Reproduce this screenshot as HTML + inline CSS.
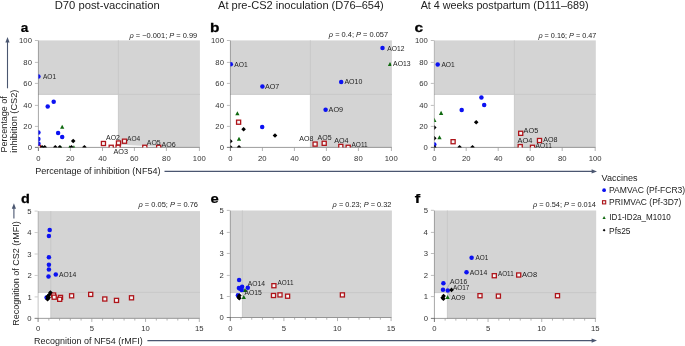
<!DOCTYPE html>
<html><head><meta charset="utf-8"><style>
html,body{margin:0;padding:0;background:#fff;width:685px;height:346px;overflow:hidden}
svg{display:block;font-family:"Liberation Sans", sans-serif;will-change:transform}
</style></head><body>
<svg width="685" height="346" viewBox="0 0 685 346">
<rect width="685" height="346" fill="#fff"/>
<rect x="38.40" y="40.40" width="161.50" height="107.00" fill="#d4d4d4"/>
<rect x="38.40" y="94.40" width="80.00" height="53.00" fill="#fff"/>
<line x1="118.40" y1="40.40" x2="118.40" y2="147.40" stroke="#c6c6c6" stroke-width="0.9"/>
<line x1="38.40" y1="94.40" x2="199.90" y2="94.40" stroke="#c6c6c6" stroke-width="0.9"/>
<path d="M120.5,144.8 L162,146.7 L162,146.95 L120.5,146.95 Z" fill="#fff"/>
<line x1="38.40" y1="40.40" x2="38.40" y2="151.00" stroke="#000" stroke-opacity="0.32" stroke-width="1"/>
<line x1="34.90" y1="147.40" x2="199.90" y2="147.40" stroke="#000" stroke-opacity="0.36" stroke-width="1"/>
<line x1="34.90" y1="147.40" x2="37.90" y2="147.40" stroke="#000" stroke-opacity="0.26" stroke-width="1"/>
<text x="27.63" y="150.15" font-size="7.7" fill="#333">0</text>
<line x1="34.90" y1="126.40" x2="37.90" y2="126.40" stroke="#000" stroke-opacity="0.26" stroke-width="1"/>
<text x="23.36" y="129.15" font-size="7.7" fill="#333">20</text>
<line x1="34.90" y1="105.40" x2="37.90" y2="105.40" stroke="#000" stroke-opacity="0.26" stroke-width="1"/>
<text x="23.36" y="108.14" font-size="7.7" fill="#333">40</text>
<line x1="34.90" y1="83.40" x2="37.90" y2="83.40" stroke="#000" stroke-opacity="0.26" stroke-width="1"/>
<text x="23.36" y="86.14" font-size="7.7" fill="#333">60</text>
<line x1="34.90" y1="62.40" x2="37.90" y2="62.40" stroke="#000" stroke-opacity="0.26" stroke-width="1"/>
<text x="23.36" y="65.14" font-size="7.7" fill="#333">80</text>
<line x1="34.90" y1="40.50" x2="37.90" y2="40.50" stroke="#000" stroke-opacity="0.26" stroke-width="1"/>
<text x="19.09" y="43.24" font-size="7.7" fill="#333">100</text>
<line x1="38.40" y1="147.90" x2="38.40" y2="151.00" stroke="#000" stroke-opacity="0.3" stroke-width="1"/>
<text x="36.26" y="161.20" font-size="7.7" fill="#333">0</text>
<line x1="70.40" y1="147.90" x2="70.40" y2="151.00" stroke="#000" stroke-opacity="0.3" stroke-width="1"/>
<text x="66.09" y="161.20" font-size="7.7" fill="#333">20</text>
<line x1="102.50" y1="147.90" x2="102.50" y2="151.00" stroke="#000" stroke-opacity="0.3" stroke-width="1"/>
<text x="98.28" y="161.20" font-size="7.7" fill="#333">40</text>
<line x1="134.40" y1="147.90" x2="134.40" y2="151.00" stroke="#000" stroke-opacity="0.3" stroke-width="1"/>
<text x="130.09" y="161.20" font-size="7.7" fill="#333">60</text>
<line x1="166.40" y1="147.90" x2="166.40" y2="151.00" stroke="#000" stroke-opacity="0.3" stroke-width="1"/>
<text x="162.11" y="161.20" font-size="7.7" fill="#333">80</text>
<line x1="199.40" y1="147.90" x2="199.40" y2="151.00" stroke="#000" stroke-opacity="0.3" stroke-width="1"/>
<text x="192.86" y="161.20" font-size="7.7" fill="#333">100</text>
<clipPath id="cpa"><rect x="38.40" y="40.40" width="160.90" height="107.00"/></clipPath>
<g clip-path="url(#cpa)">
<path d="M60.05,128.85 L64.35,128.85 L62.20,124.75 Z" fill="#0f690f"/>
<path d="M67.45,149.35 L71.75,149.35 L69.60,145.25 Z" fill="#0f690f"/>
<path d="M71.75,149.35 L76.05,149.35 L73.90,145.25 Z" fill="#0f690f"/>
<path d="M58.55,149.35 L62.85,149.35 L60.70,145.25 Z" fill="#0f690f"/>
<rect x="36.35" y="145.25" width="4.1" height="4.1" fill="#f6f6f6" stroke="#ae141a" stroke-width="1.3"/>
<rect x="101.40" y="141.45" width="4.1" height="4.1" fill="#f6f6f6" stroke="#ae141a" stroke-width="1.3"/>
<rect x="109.15" y="145.25" width="4.1" height="4.1" fill="#f6f6f6" stroke="#ae141a" stroke-width="1.3"/>
<rect x="116.45" y="140.95" width="4.1" height="4.1" fill="#f6f6f6" stroke="#ae141a" stroke-width="1.3"/>
<rect x="116.05" y="145.25" width="4.1" height="4.1" fill="#f6f6f6" stroke="#ae141a" stroke-width="1.3"/>
<rect x="122.45" y="139.15" width="4.1" height="4.1" fill="#f6f6f6" stroke="#ae141a" stroke-width="1.3"/>
<rect x="142.75" y="145.25" width="4.1" height="4.1" fill="#f6f6f6" stroke="#ae141a" stroke-width="1.3"/>
<rect x="156.65" y="145.25" width="4.1" height="4.1" fill="#f6f6f6" stroke="#ae141a" stroke-width="1.3"/>
<circle cx="38.4" cy="76.5" r="2.25" fill="#0c12f2"/>
<circle cx="47.7" cy="106.5" r="2.25" fill="#0c12f2"/>
<circle cx="53.7" cy="101.8" r="2.25" fill="#0c12f2"/>
<circle cx="58.1" cy="133.0" r="2.25" fill="#0c12f2"/>
<circle cx="62.2" cy="137.0" r="2.25" fill="#0c12f2"/>
<circle cx="38.4" cy="132.5" r="2.25" fill="#0c12f2"/>
<circle cx="38.4" cy="138.9" r="2.25" fill="#0c12f2"/>
<circle cx="38.4" cy="143.4" r="2.25" fill="#0c12f2"/>
<path d="M73.20,138.70 L75.50,141.00 L73.20,143.30 L70.90,141.00 Z" fill="#000"/>
<path d="M42.10,145.00 L44.40,147.30 L42.10,149.60 L39.80,147.30 Z" fill="#000"/>
<path d="M44.70,145.00 L47.00,147.30 L44.70,149.60 L42.40,147.30 Z" fill="#000"/>
<path d="M55.30,145.00 L57.60,147.30 L55.30,149.60 L53.00,147.30 Z" fill="#000"/>
<path d="M59.80,145.00 L62.10,147.30 L59.80,149.60 L57.50,147.30 Z" fill="#000"/>
<path d="M71.40,145.00 L73.70,147.30 L71.40,149.60 L69.10,147.30 Z" fill="#000"/>
<path d="M84.40,145.00 L86.70,147.30 L84.40,149.60 L82.10,147.30 Z" fill="#000"/>
</g>
<text x="43.01" y="78.56" font-size="7.7" fill="#222" font-weight="normal" textLength="13.03" lengthAdjust="spacingAndGlyphs" >AO1</text>
<text x="106.11" y="140.26" font-size="7.7" fill="#222" font-weight="normal" textLength="13.83" lengthAdjust="spacingAndGlyphs" >AO2</text>
<text x="113.41" y="154.16" font-size="7.7" fill="#222" font-weight="normal" textLength="14.59" lengthAdjust="spacingAndGlyphs" >AO3</text>
<text x="127.11" y="141.36" font-size="7.7" fill="#222" font-weight="normal" textLength="13.18" lengthAdjust="spacingAndGlyphs" >AO4</text>
<text x="146.81" y="145.36" font-size="7.7" fill="#222" font-weight="normal" textLength="13.95" lengthAdjust="spacingAndGlyphs" >AO5</text>
<text x="161.41" y="147.36" font-size="7.7" fill="#222" font-weight="normal" textLength="14.29" lengthAdjust="spacingAndGlyphs" >AO6</text>
<text x="129.42" y="37.80" font-size="7.4" fill="#222" font-weight="normal" textLength="67.82" lengthAdjust="spacingAndGlyphs" ><tspan font-style="italic">ρ</tspan> = −0.001; <tspan font-style="italic">P</tspan> = 0.99</text>
<rect x="230.40" y="40.40" width="161.50" height="107.00" fill="#d4d4d4"/>
<rect x="230.40" y="94.40" width="80.00" height="53.00" fill="#fff"/>
<line x1="310.40" y1="40.40" x2="310.40" y2="147.40" stroke="#c6c6c6" stroke-width="0.9"/>
<line x1="230.40" y1="94.40" x2="391.90" y2="94.40" stroke="#c6c6c6" stroke-width="0.9"/>
<line x1="230.40" y1="40.40" x2="230.40" y2="151.00" stroke="#000" stroke-opacity="0.32" stroke-width="1"/>
<line x1="226.90" y1="147.40" x2="391.90" y2="147.40" stroke="#000" stroke-opacity="0.36" stroke-width="1"/>
<line x1="226.90" y1="147.40" x2="229.90" y2="147.40" stroke="#000" stroke-opacity="0.26" stroke-width="1"/>
<text x="219.63" y="150.15" font-size="7.7" fill="#333">0</text>
<line x1="226.90" y1="126.40" x2="229.90" y2="126.40" stroke="#000" stroke-opacity="0.26" stroke-width="1"/>
<text x="215.36" y="129.15" font-size="7.7" fill="#333">20</text>
<line x1="226.90" y1="105.40" x2="229.90" y2="105.40" stroke="#000" stroke-opacity="0.26" stroke-width="1"/>
<text x="215.36" y="108.14" font-size="7.7" fill="#333">40</text>
<line x1="226.90" y1="83.40" x2="229.90" y2="83.40" stroke="#000" stroke-opacity="0.26" stroke-width="1"/>
<text x="215.36" y="86.14" font-size="7.7" fill="#333">60</text>
<line x1="226.90" y1="62.40" x2="229.90" y2="62.40" stroke="#000" stroke-opacity="0.26" stroke-width="1"/>
<text x="215.36" y="65.14" font-size="7.7" fill="#333">80</text>
<line x1="226.90" y1="40.50" x2="229.90" y2="40.50" stroke="#000" stroke-opacity="0.26" stroke-width="1"/>
<text x="211.09" y="43.24" font-size="7.7" fill="#333">100</text>
<line x1="230.40" y1="147.90" x2="230.40" y2="151.00" stroke="#000" stroke-opacity="0.3" stroke-width="1"/>
<text x="228.26" y="161.20" font-size="7.7" fill="#333">0</text>
<line x1="262.40" y1="147.90" x2="262.40" y2="151.00" stroke="#000" stroke-opacity="0.3" stroke-width="1"/>
<text x="258.09" y="161.20" font-size="7.7" fill="#333">20</text>
<line x1="294.40" y1="147.90" x2="294.40" y2="151.00" stroke="#000" stroke-opacity="0.3" stroke-width="1"/>
<text x="290.18" y="161.20" font-size="7.7" fill="#333">40</text>
<line x1="326.40" y1="147.90" x2="326.40" y2="151.00" stroke="#000" stroke-opacity="0.3" stroke-width="1"/>
<text x="322.09" y="161.20" font-size="7.7" fill="#333">60</text>
<line x1="358.40" y1="147.90" x2="358.40" y2="151.00" stroke="#000" stroke-opacity="0.3" stroke-width="1"/>
<text x="354.11" y="161.20" font-size="7.7" fill="#333">80</text>
<line x1="391.40" y1="147.90" x2="391.40" y2="151.00" stroke="#000" stroke-opacity="0.3" stroke-width="1"/>
<text x="384.85" y="161.20" font-size="7.7" fill="#333">100</text>
<clipPath id="cpb"><rect x="230.40" y="40.40" width="160.90" height="107.00"/></clipPath>
<g clip-path="url(#cpb)">
<path d="M387.85,66.05 L392.15,66.05 L390.00,61.95 Z" fill="#0f690f"/>
<path d="M235.25,115.25 L239.55,115.25 L237.40,111.15 Z" fill="#0f690f"/>
<path d="M236.85,140.85 L241.15,140.85 L239.00,136.75 Z" fill="#0f690f"/>
<rect x="236.55" y="120.15" width="4.1" height="4.1" fill="#f6f6f6" stroke="#ae141a" stroke-width="1.3"/>
<rect x="313.05" y="142.05" width="4.1" height="4.1" fill="#f6f6f6" stroke="#ae141a" stroke-width="1.3"/>
<rect x="322.15" y="141.25" width="4.1" height="4.1" fill="#f6f6f6" stroke="#ae141a" stroke-width="1.3"/>
<rect x="338.75" y="144.35" width="4.1" height="4.1" fill="#f6f6f6" stroke="#ae141a" stroke-width="1.3"/>
<rect x="346.15" y="145.25" width="4.1" height="4.1" fill="#f6f6f6" stroke="#ae141a" stroke-width="1.3"/>
<circle cx="230.8" cy="64.2" r="2.25" fill="#0c12f2"/>
<circle cx="262.4" cy="86.4" r="2.25" fill="#0c12f2"/>
<circle cx="382.5" cy="48.1" r="2.25" fill="#0c12f2"/>
<circle cx="341.2" cy="81.9" r="2.25" fill="#0c12f2"/>
<circle cx="325.6" cy="109.8" r="2.25" fill="#0c12f2"/>
<circle cx="262.2" cy="126.9" r="2.25" fill="#0c12f2"/>
<path d="M243.60,126.90 L245.90,129.20 L243.60,131.50 L241.30,129.20 Z" fill="#000"/>
<path d="M275.00,133.20 L277.30,135.50 L275.00,137.80 L272.70,135.50 Z" fill="#000"/>
<path d="M230.40,138.90 L232.70,141.20 L230.40,143.50 L228.10,141.20 Z" fill="#000"/>
<path d="M230.40,145.00 L232.70,147.30 L230.40,149.60 L228.10,147.30 Z" fill="#000"/>
<path d="M239.00,145.00 L241.30,147.30 L239.00,149.60 L236.70,147.30 Z" fill="#000"/>
</g>
<text x="234.21" y="66.86" font-size="7.7" fill="#222" font-weight="normal" textLength="13.43" lengthAdjust="spacingAndGlyphs" >AO1</text>
<text x="265.01" y="89.06" font-size="7.7" fill="#222" font-weight="normal" textLength="14.33" lengthAdjust="spacingAndGlyphs" >AO7</text>
<text x="387.31" y="50.66" font-size="7.7" fill="#222" font-weight="normal" textLength="17.14" lengthAdjust="spacingAndGlyphs" >AO12</text>
<text x="393.11" y="66.36" font-size="7.7" fill="#222" font-weight="normal" textLength="17.50" lengthAdjust="spacingAndGlyphs" >AO13</text>
<text x="344.41" y="84.16" font-size="7.7" fill="#222" font-weight="normal" textLength="17.96" lengthAdjust="spacingAndGlyphs" >AO10</text>
<text x="328.61" y="112.46" font-size="7.7" fill="#222" font-weight="normal" textLength="14.49" lengthAdjust="spacingAndGlyphs" >AO9</text>
<text x="299.31" y="140.76" font-size="7.7" fill="#222" font-weight="normal" textLength="14.05" lengthAdjust="spacingAndGlyphs" >AO8</text>
<text x="317.51" y="140.16" font-size="7.7" fill="#222" font-weight="normal" textLength="14.05" lengthAdjust="spacingAndGlyphs" >AO5</text>
<text x="334.21" y="143.36" font-size="7.7" fill="#222" font-weight="normal" textLength="14.38" lengthAdjust="spacingAndGlyphs" >AO4</text>
<text x="351.51" y="146.76" font-size="7.7" fill="#222" font-weight="normal" textLength="16.15" lengthAdjust="spacingAndGlyphs" >AO11</text>
<text x="328.82" y="37.40" font-size="7.4" fill="#222" font-weight="normal" textLength="59.25" lengthAdjust="spacingAndGlyphs" ><tspan font-style="italic">ρ</tspan> = 0.4; <tspan font-style="italic">P</tspan> = 0.057</text>
<rect x="434.30" y="40.40" width="161.50" height="107.00" fill="#d4d4d4"/>
<rect x="434.30" y="94.40" width="80.10" height="53.00" fill="#fff"/>
<line x1="514.40" y1="40.40" x2="514.40" y2="147.40" stroke="#c6c6c6" stroke-width="0.9"/>
<line x1="434.30" y1="94.40" x2="595.80" y2="94.40" stroke="#c6c6c6" stroke-width="0.9"/>
<line x1="434.30" y1="40.40" x2="434.30" y2="151.00" stroke="#000" stroke-opacity="0.22" stroke-width="1"/>
<line x1="430.80" y1="147.40" x2="595.70" y2="147.40" stroke="#000" stroke-opacity="0.36" stroke-width="1"/>
<line x1="430.80" y1="147.40" x2="433.80" y2="147.40" stroke="#000" stroke-opacity="0.26" stroke-width="1"/>
<text x="423.53" y="150.15" font-size="7.7" fill="#333">0</text>
<line x1="430.80" y1="126.40" x2="433.80" y2="126.40" stroke="#000" stroke-opacity="0.26" stroke-width="1"/>
<text x="419.26" y="129.15" font-size="7.7" fill="#333">20</text>
<line x1="430.80" y1="105.40" x2="433.80" y2="105.40" stroke="#000" stroke-opacity="0.26" stroke-width="1"/>
<text x="419.26" y="108.14" font-size="7.7" fill="#333">40</text>
<line x1="430.80" y1="83.40" x2="433.80" y2="83.40" stroke="#000" stroke-opacity="0.26" stroke-width="1"/>
<text x="419.26" y="86.14" font-size="7.7" fill="#333">60</text>
<line x1="430.80" y1="62.40" x2="433.80" y2="62.40" stroke="#000" stroke-opacity="0.26" stroke-width="1"/>
<text x="419.26" y="65.14" font-size="7.7" fill="#333">80</text>
<line x1="430.80" y1="40.50" x2="433.80" y2="40.50" stroke="#000" stroke-opacity="0.26" stroke-width="1"/>
<text x="414.99" y="43.24" font-size="7.7" fill="#333">100</text>
<line x1="434.30" y1="147.90" x2="434.30" y2="151.00" stroke="#000" stroke-opacity="0.3" stroke-width="1"/>
<text x="432.16" y="161.20" font-size="7.7" fill="#333">0</text>
<line x1="466.20" y1="147.90" x2="466.20" y2="151.00" stroke="#000" stroke-opacity="0.3" stroke-width="1"/>
<text x="461.89" y="161.20" font-size="7.7" fill="#333">20</text>
<line x1="498.20" y1="147.90" x2="498.20" y2="151.00" stroke="#000" stroke-opacity="0.3" stroke-width="1"/>
<text x="493.98" y="161.20" font-size="7.7" fill="#333">40</text>
<line x1="530.20" y1="147.90" x2="530.20" y2="151.00" stroke="#000" stroke-opacity="0.3" stroke-width="1"/>
<text x="525.89" y="161.20" font-size="7.7" fill="#333">60</text>
<line x1="562.20" y1="147.90" x2="562.20" y2="151.00" stroke="#000" stroke-opacity="0.3" stroke-width="1"/>
<text x="557.91" y="161.20" font-size="7.7" fill="#333">80</text>
<line x1="595.20" y1="147.90" x2="595.20" y2="151.00" stroke="#000" stroke-opacity="0.3" stroke-width="1"/>
<text x="588.66" y="161.20" font-size="7.7" fill="#333">100</text>
<clipPath id="cpc"><rect x="434.30" y="40.40" width="160.90" height="107.00"/></clipPath>
<g clip-path="url(#cpc)">
<path d="M438.95,114.95 L443.25,114.95 L441.10,110.85 Z" fill="#0f690f"/>
<path d="M432.15,121.95 L436.45,121.95 L434.30,117.85 Z" fill="#0f690f"/>
<path d="M437.35,139.25 L441.65,139.25 L439.50,135.15 Z" fill="#0f690f"/>
<rect x="451.05" y="139.65" width="4.1" height="4.1" fill="#f6f6f6" stroke="#ae141a" stroke-width="1.3"/>
<rect x="518.65" y="131.25" width="4.1" height="4.1" fill="#f6f6f6" stroke="#ae141a" stroke-width="1.3"/>
<rect x="518.15" y="144.55" width="4.1" height="4.1" fill="#f6f6f6" stroke="#ae141a" stroke-width="1.3"/>
<rect x="537.45" y="138.45" width="4.1" height="4.1" fill="#f6f6f6" stroke="#ae141a" stroke-width="1.3"/>
<rect x="530.45" y="145.25" width="4.1" height="4.1" fill="#f6f6f6" stroke="#ae141a" stroke-width="1.3"/>
<circle cx="437.7" cy="64.4" r="2.25" fill="#0c12f2"/>
<circle cx="481.4" cy="97.6" r="2.25" fill="#0c12f2"/>
<circle cx="484.2" cy="105.0" r="2.25" fill="#0c12f2"/>
<circle cx="461.7" cy="110.0" r="2.25" fill="#0c12f2"/>
<circle cx="434.3" cy="144.5" r="2.25" fill="#0c12f2"/>
<path d="M476.20,120.00 L478.50,122.30 L476.20,124.60 L473.90,122.30 Z" fill="#000"/>
<path d="M434.30,125.20 L436.60,127.50 L434.30,129.80 L432.00,127.50 Z" fill="#000"/>
<path d="M434.30,135.90 L436.60,138.20 L434.30,140.50 L432.00,138.20 Z" fill="#000"/>
<path d="M434.30,145.00 L436.60,147.30 L434.30,149.60 L432.00,147.30 Z" fill="#000"/>
<path d="M459.60,145.00 L461.90,147.30 L459.60,149.60 L457.30,147.30 Z" fill="#000"/>
<path d="M472.50,145.00 L474.80,147.30 L472.50,149.60 L470.20,147.30 Z" fill="#000"/>
</g>
<text x="441.41" y="67.06" font-size="7.7" fill="#222" font-weight="normal" textLength="13.33" lengthAdjust="spacingAndGlyphs" >AO1</text>
<text x="523.61" y="133.46" font-size="7.7" fill="#222" font-weight="normal" textLength="14.65" lengthAdjust="spacingAndGlyphs" >AO5</text>
<text x="517.61" y="143.16" font-size="7.7" fill="#222" font-weight="normal" textLength="14.88" lengthAdjust="spacingAndGlyphs" >AO4</text>
<text x="543.21" y="142.16" font-size="7.7" fill="#222" font-weight="normal" textLength="14.35" lengthAdjust="spacingAndGlyphs" >AO8</text>
<text x="535.61" y="148.16" font-size="7.7" fill="#222" font-weight="normal" textLength="16.15" lengthAdjust="spacingAndGlyphs" >AO11</text>
<text x="538.42" y="37.50" font-size="7.4" fill="#222" font-weight="normal" textLength="57.85" lengthAdjust="spacingAndGlyphs" ><tspan font-style="italic">ρ</tspan> = 0.16; <tspan font-style="italic">P</tspan> = 0.47</text>
<rect x="38.10" y="211.10" width="161.90" height="107.25" fill="#d4d4d4"/>
<rect x="38.10" y="292.40" width="12.70" height="25.95" fill="#fff"/>
<line x1="50.80" y1="211.10" x2="50.80" y2="318.35" stroke="#c6c6c6" stroke-width="0.9"/>
<line x1="38.10" y1="292.40" x2="200.00" y2="292.40" stroke="#c6c6c6" stroke-width="0.9"/>
<line x1="38.10" y1="211.10" x2="38.10" y2="321.95" stroke="#000" stroke-opacity="0.22" stroke-width="1"/>
<line x1="34.60" y1="318.35" x2="199.80" y2="318.35" stroke="#000" stroke-opacity="0.36" stroke-width="1"/>
<line x1="34.60" y1="318.35" x2="37.60" y2="318.35" stroke="#000" stroke-opacity="0.2" stroke-width="1"/>
<text x="27.33" y="321.10" font-size="7.7" fill="#333">0</text>
<line x1="34.60" y1="296.90" x2="37.60" y2="296.90" stroke="#000" stroke-opacity="0.2" stroke-width="1"/>
<text x="27.41" y="299.65" font-size="7.7" fill="#333">1</text>
<line x1="34.60" y1="275.45" x2="37.60" y2="275.45" stroke="#000" stroke-opacity="0.2" stroke-width="1"/>
<text x="27.41" y="278.19" font-size="7.7" fill="#333">2</text>
<line x1="34.60" y1="254.00" x2="37.60" y2="254.00" stroke="#000" stroke-opacity="0.2" stroke-width="1"/>
<text x="27.37" y="256.75" font-size="7.7" fill="#333">3</text>
<line x1="34.60" y1="232.55" x2="37.60" y2="232.55" stroke="#000" stroke-opacity="0.2" stroke-width="1"/>
<text x="27.26" y="235.30" font-size="7.7" fill="#333">4</text>
<line x1="34.60" y1="211.10" x2="37.60" y2="211.10" stroke="#000" stroke-opacity="0.2" stroke-width="1"/>
<text x="27.33" y="213.84" font-size="7.7" fill="#333">5</text>
<line x1="38.10" y1="318.85" x2="38.10" y2="321.95" stroke="#000" stroke-opacity="0.3" stroke-width="1"/>
<text x="35.96" y="330.80" font-size="7.7" fill="#333">0</text>
<line x1="91.84" y1="318.85" x2="91.84" y2="321.95" stroke="#000" stroke-opacity="0.3" stroke-width="1"/>
<text x="89.70" y="330.80" font-size="7.7" fill="#333">5</text>
<line x1="145.57" y1="318.85" x2="145.57" y2="321.95" stroke="#000" stroke-opacity="0.3" stroke-width="1"/>
<text x="141.16" y="330.80" font-size="7.7" fill="#333">10</text>
<line x1="199.30" y1="318.85" x2="199.30" y2="321.95" stroke="#000" stroke-opacity="0.3" stroke-width="1"/>
<text x="194.90" y="330.80" font-size="7.7" fill="#333">15</text>
<line x1="48.85" y1="318.85" x2="48.85" y2="320.55" stroke="#000" stroke-opacity="0.3" stroke-width="1"/>
<line x1="59.59" y1="318.85" x2="59.59" y2="320.55" stroke="#000" stroke-opacity="0.3" stroke-width="1"/>
<line x1="70.34" y1="318.85" x2="70.34" y2="320.55" stroke="#000" stroke-opacity="0.3" stroke-width="1"/>
<line x1="81.09" y1="318.85" x2="81.09" y2="320.55" stroke="#000" stroke-opacity="0.3" stroke-width="1"/>
<line x1="102.58" y1="318.85" x2="102.58" y2="320.55" stroke="#000" stroke-opacity="0.3" stroke-width="1"/>
<line x1="113.33" y1="318.85" x2="113.33" y2="320.55" stroke="#000" stroke-opacity="0.3" stroke-width="1"/>
<line x1="124.08" y1="318.85" x2="124.08" y2="320.55" stroke="#000" stroke-opacity="0.3" stroke-width="1"/>
<line x1="134.82" y1="318.85" x2="134.82" y2="320.55" stroke="#000" stroke-opacity="0.3" stroke-width="1"/>
<line x1="156.32" y1="318.85" x2="156.32" y2="320.55" stroke="#000" stroke-opacity="0.3" stroke-width="1"/>
<line x1="167.06" y1="318.85" x2="167.06" y2="320.55" stroke="#000" stroke-opacity="0.3" stroke-width="1"/>
<line x1="177.81" y1="318.85" x2="177.81" y2="320.55" stroke="#000" stroke-opacity="0.3" stroke-width="1"/>
<line x1="188.56" y1="318.85" x2="188.56" y2="320.55" stroke="#000" stroke-opacity="0.3" stroke-width="1"/>
<clipPath id="cpd"><rect x="38.10" y="211.10" width="161.30" height="107.25"/></clipPath>
<g clip-path="url(#cpd)">
<rect x="51.55" y="292.95" width="4.1" height="4.1" fill="#f6f6f6" stroke="#ae141a" stroke-width="1.3"/>
<rect x="52.15" y="295.15" width="4.1" height="4.1" fill="#f6f6f6" stroke="#ae141a" stroke-width="1.3"/>
<rect x="58.45" y="295.35" width="4.1" height="4.1" fill="#f6f6f6" stroke="#ae141a" stroke-width="1.3"/>
<rect x="57.65" y="297.25" width="4.1" height="4.1" fill="#f6f6f6" stroke="#ae141a" stroke-width="1.3"/>
<rect x="69.55" y="293.75" width="4.1" height="4.1" fill="#f6f6f6" stroke="#ae141a" stroke-width="1.3"/>
<rect x="88.65" y="292.35" width="4.1" height="4.1" fill="#f6f6f6" stroke="#ae141a" stroke-width="1.3"/>
<rect x="102.75" y="296.95" width="4.1" height="4.1" fill="#f6f6f6" stroke="#ae141a" stroke-width="1.3"/>
<rect x="114.45" y="298.35" width="4.1" height="4.1" fill="#f6f6f6" stroke="#ae141a" stroke-width="1.3"/>
<rect x="129.45" y="295.75" width="4.1" height="4.1" fill="#f6f6f6" stroke="#ae141a" stroke-width="1.3"/>
<circle cx="49.7" cy="230.1" r="2.25" fill="#0c12f2"/>
<circle cx="48.9" cy="236.1" r="2.25" fill="#0c12f2"/>
<circle cx="48.9" cy="257.3" r="2.25" fill="#0c12f2"/>
<circle cx="48.9" cy="264.7" r="2.25" fill="#0c12f2"/>
<circle cx="48.9" cy="269.4" r="2.25" fill="#0c12f2"/>
<circle cx="48.5" cy="276.4" r="2.25" fill="#0c12f2"/>
<circle cx="55.8" cy="274.6" r="2.25" fill="#0c12f2"/>
<circle cx="46.6" cy="297.4" r="2.25" fill="#0c12f2"/>
<path d="M50.40,290.20 L52.70,292.50 L50.40,294.80 L48.10,292.50 Z" fill="#000"/>
<path d="M49.20,292.50 L51.50,294.80 L49.20,297.10 L46.90,294.80 Z" fill="#000"/>
<path d="M47.60,294.30 L49.90,296.60 L47.60,298.90 L45.30,296.60 Z" fill="#000"/>
<path d="M48.60,295.30 L50.90,297.60 L48.60,299.90 L46.30,297.60 Z" fill="#000"/>
<path d="M47.50,297.00 L49.80,299.30 L47.50,301.60 L45.20,299.30 Z" fill="#000"/>
<path d="M47.90,296.10 L50.20,298.40 L47.90,300.70 L45.60,298.40 Z" fill="#000"/>
</g>
<text x="59.01" y="276.96" font-size="7.7" fill="#222" font-weight="normal" textLength="17.29" lengthAdjust="spacingAndGlyphs" >AO14</text>
<text x="138.42" y="207.30" font-size="7.4" fill="#222" font-weight="normal" textLength="59.62" lengthAdjust="spacingAndGlyphs" ><tspan font-style="italic">ρ</tspan> = 0.05; <tspan font-style="italic">P</tspan> = 0.76</text>
<rect x="230.30" y="210.50" width="161.60" height="107.00" fill="#d4d4d4"/>
<rect x="230.30" y="292.60" width="12.10" height="24.90" fill="#fff"/>
<line x1="242.40" y1="210.50" x2="242.40" y2="317.50" stroke="#c6c6c6" stroke-width="0.9"/>
<line x1="230.30" y1="292.60" x2="391.90" y2="292.60" stroke="#c6c6c6" stroke-width="0.9"/>
<line x1="230.30" y1="210.50" x2="230.30" y2="321.10" stroke="#000" stroke-opacity="0.32" stroke-width="1"/>
<line x1="226.80" y1="317.50" x2="391.60" y2="317.50" stroke="#000" stroke-opacity="0.36" stroke-width="1"/>
<line x1="226.80" y1="317.50" x2="229.80" y2="317.50" stroke="#000" stroke-opacity="0.26" stroke-width="1"/>
<text x="219.53" y="320.25" font-size="7.7" fill="#333">0</text>
<line x1="226.80" y1="296.50" x2="229.80" y2="296.50" stroke="#000" stroke-opacity="0.26" stroke-width="1"/>
<text x="219.61" y="299.25" font-size="7.7" fill="#333">1</text>
<line x1="226.80" y1="275.40" x2="229.80" y2="275.40" stroke="#000" stroke-opacity="0.26" stroke-width="1"/>
<text x="219.61" y="278.14" font-size="7.7" fill="#333">2</text>
<line x1="226.80" y1="253.45" x2="229.80" y2="253.45" stroke="#000" stroke-opacity="0.26" stroke-width="1"/>
<text x="219.57" y="256.19" font-size="7.7" fill="#333">3</text>
<line x1="226.80" y1="232.40" x2="229.80" y2="232.40" stroke="#000" stroke-opacity="0.26" stroke-width="1"/>
<text x="219.46" y="235.15" font-size="7.7" fill="#333">4</text>
<line x1="226.80" y1="210.40" x2="229.80" y2="210.40" stroke="#000" stroke-opacity="0.26" stroke-width="1"/>
<text x="219.53" y="213.15" font-size="7.7" fill="#333">5</text>
<line x1="230.30" y1="318.00" x2="230.30" y2="321.10" stroke="#000" stroke-opacity="0.3" stroke-width="1"/>
<text x="228.16" y="330.80" font-size="7.7" fill="#333">0</text>
<line x1="283.90" y1="318.00" x2="283.90" y2="321.10" stroke="#000" stroke-opacity="0.3" stroke-width="1"/>
<text x="281.76" y="330.80" font-size="7.7" fill="#333">5</text>
<line x1="337.50" y1="318.00" x2="337.50" y2="321.10" stroke="#000" stroke-opacity="0.3" stroke-width="1"/>
<text x="333.09" y="330.80" font-size="7.7" fill="#333">10</text>
<line x1="391.10" y1="318.00" x2="391.10" y2="321.10" stroke="#000" stroke-opacity="0.3" stroke-width="1"/>
<text x="386.69" y="330.80" font-size="7.7" fill="#333">15</text>
<line x1="241.02" y1="318.00" x2="241.02" y2="319.70" stroke="#000" stroke-opacity="0.3" stroke-width="1"/>
<line x1="251.74" y1="318.00" x2="251.74" y2="319.70" stroke="#000" stroke-opacity="0.3" stroke-width="1"/>
<line x1="262.46" y1="318.00" x2="262.46" y2="319.70" stroke="#000" stroke-opacity="0.3" stroke-width="1"/>
<line x1="273.18" y1="318.00" x2="273.18" y2="319.70" stroke="#000" stroke-opacity="0.3" stroke-width="1"/>
<line x1="294.62" y1="318.00" x2="294.62" y2="319.70" stroke="#000" stroke-opacity="0.3" stroke-width="1"/>
<line x1="305.34" y1="318.00" x2="305.34" y2="319.70" stroke="#000" stroke-opacity="0.3" stroke-width="1"/>
<line x1="316.06" y1="318.00" x2="316.06" y2="319.70" stroke="#000" stroke-opacity="0.3" stroke-width="1"/>
<line x1="326.78" y1="318.00" x2="326.78" y2="319.70" stroke="#000" stroke-opacity="0.3" stroke-width="1"/>
<line x1="348.22" y1="318.00" x2="348.22" y2="319.70" stroke="#000" stroke-opacity="0.3" stroke-width="1"/>
<line x1="358.94" y1="318.00" x2="358.94" y2="319.70" stroke="#000" stroke-opacity="0.3" stroke-width="1"/>
<line x1="369.66" y1="318.00" x2="369.66" y2="319.70" stroke="#000" stroke-opacity="0.3" stroke-width="1"/>
<line x1="380.38" y1="318.00" x2="380.38" y2="319.70" stroke="#000" stroke-opacity="0.3" stroke-width="1"/>
<clipPath id="cpe"><rect x="230.30" y="210.50" width="161.00" height="107.00"/></clipPath>
<g clip-path="url(#cpe)">
<path d="M242.85,292.05 L247.15,292.05 L245.00,287.95 Z" fill="#0f690f"/>
<path d="M241.65,299.05 L245.95,299.05 L243.80,294.95 Z" fill="#0f690f"/>
<rect x="271.85" y="283.65" width="4.1" height="4.1" fill="#f6f6f6" stroke="#ae141a" stroke-width="1.3"/>
<rect x="271.45" y="293.45" width="4.1" height="4.1" fill="#f6f6f6" stroke="#ae141a" stroke-width="1.3"/>
<rect x="277.95" y="292.85" width="4.1" height="4.1" fill="#f6f6f6" stroke="#ae141a" stroke-width="1.3"/>
<rect x="285.55" y="294.15" width="4.1" height="4.1" fill="#f6f6f6" stroke="#ae141a" stroke-width="1.3"/>
<rect x="340.35" y="292.85" width="4.1" height="4.1" fill="#f6f6f6" stroke="#ae141a" stroke-width="1.3"/>
<circle cx="239.1" cy="279.9" r="2.25" fill="#0c12f2"/>
<circle cx="238.9" cy="288.0" r="2.25" fill="#0c12f2"/>
<circle cx="242.1" cy="286.7" r="2.25" fill="#0c12f2"/>
<circle cx="241.7" cy="290.0" r="2.25" fill="#0c12f2"/>
<circle cx="240.1" cy="288.8" r="2.25" fill="#0c12f2"/>
<circle cx="247.8" cy="287.7" r="2.25" fill="#0c12f2"/>
<circle cx="237.9" cy="295.3" r="2.25" fill="#0c12f2"/>
<path d="M239.40,293.30 L241.70,295.60 L239.40,297.90 L237.10,295.60 Z" fill="#000"/>
<path d="M238.60,295.00 L240.90,297.30 L238.60,299.60 L236.30,297.30 Z" fill="#000"/>
<path d="M239.30,295.90 L241.60,298.20 L239.30,300.50 L237.00,298.20 Z" fill="#000"/>
</g>
<text x="247.71" y="286.06" font-size="7.7" fill="#222" font-weight="normal" textLength="17.19" lengthAdjust="spacingAndGlyphs" >AO14</text>
<text x="244.61" y="294.76" font-size="7.7" fill="#222" font-weight="normal" textLength="17.26" lengthAdjust="spacingAndGlyphs" >AO15</text>
<text x="277.61" y="285.36" font-size="7.7" fill="#222" font-weight="normal" textLength="15.85" lengthAdjust="spacingAndGlyphs" >AO11</text>
<text x="332.62" y="207.30" font-size="7.4" fill="#222" font-weight="normal" textLength="58.75" lengthAdjust="spacingAndGlyphs" ><tspan font-style="italic">ρ</tspan> = 0.23; <tspan font-style="italic">P</tspan> = 0.32</text>
<rect x="434.40" y="210.50" width="161.80" height="107.90" fill="#d4d4d4"/>
<rect x="434.40" y="292.60" width="13.00" height="25.80" fill="#fff"/>
<line x1="447.40" y1="210.50" x2="447.40" y2="318.40" stroke="#c6c6c6" stroke-width="0.9"/>
<line x1="434.40" y1="292.60" x2="596.20" y2="292.60" stroke="#c6c6c6" stroke-width="0.9"/>
<line x1="434.40" y1="210.50" x2="434.40" y2="322.00" stroke="#000" stroke-opacity="0.32" stroke-width="1"/>
<line x1="430.90" y1="318.40" x2="595.89" y2="318.40" stroke="#000" stroke-opacity="0.36" stroke-width="1"/>
<line x1="430.90" y1="318.40" x2="433.90" y2="318.40" stroke="#000" stroke-opacity="0.26" stroke-width="1"/>
<text x="423.63" y="321.14" font-size="7.7" fill="#333">0</text>
<line x1="430.90" y1="296.60" x2="433.90" y2="296.60" stroke="#000" stroke-opacity="0.26" stroke-width="1"/>
<text x="423.71" y="299.35" font-size="7.7" fill="#333">1</text>
<line x1="430.90" y1="275.40" x2="433.90" y2="275.40" stroke="#000" stroke-opacity="0.26" stroke-width="1"/>
<text x="423.71" y="278.14" font-size="7.7" fill="#333">2</text>
<line x1="430.90" y1="253.50" x2="433.90" y2="253.50" stroke="#000" stroke-opacity="0.26" stroke-width="1"/>
<text x="423.67" y="256.25" font-size="7.7" fill="#333">3</text>
<line x1="430.90" y1="232.40" x2="433.90" y2="232.40" stroke="#000" stroke-opacity="0.26" stroke-width="1"/>
<text x="423.56" y="235.15" font-size="7.7" fill="#333">4</text>
<line x1="430.90" y1="210.30" x2="433.90" y2="210.30" stroke="#000" stroke-opacity="0.26" stroke-width="1"/>
<text x="423.63" y="213.05" font-size="7.7" fill="#333">5</text>
<line x1="434.40" y1="318.90" x2="434.40" y2="322.00" stroke="#000" stroke-opacity="0.3" stroke-width="1"/>
<text x="432.26" y="330.80" font-size="7.7" fill="#333">0</text>
<line x1="488.06" y1="318.90" x2="488.06" y2="322.00" stroke="#000" stroke-opacity="0.3" stroke-width="1"/>
<text x="485.93" y="330.80" font-size="7.7" fill="#333">5</text>
<line x1="541.73" y1="318.90" x2="541.73" y2="322.00" stroke="#000" stroke-opacity="0.3" stroke-width="1"/>
<text x="537.32" y="330.80" font-size="7.7" fill="#333">10</text>
<line x1="595.39" y1="318.90" x2="595.39" y2="322.00" stroke="#000" stroke-opacity="0.3" stroke-width="1"/>
<text x="590.99" y="330.80" font-size="7.7" fill="#333">15</text>
<line x1="445.13" y1="318.90" x2="445.13" y2="320.60" stroke="#000" stroke-opacity="0.3" stroke-width="1"/>
<line x1="455.87" y1="318.90" x2="455.87" y2="320.60" stroke="#000" stroke-opacity="0.3" stroke-width="1"/>
<line x1="466.60" y1="318.90" x2="466.60" y2="320.60" stroke="#000" stroke-opacity="0.3" stroke-width="1"/>
<line x1="477.33" y1="318.90" x2="477.33" y2="320.60" stroke="#000" stroke-opacity="0.3" stroke-width="1"/>
<line x1="498.80" y1="318.90" x2="498.80" y2="320.60" stroke="#000" stroke-opacity="0.3" stroke-width="1"/>
<line x1="509.53" y1="318.90" x2="509.53" y2="320.60" stroke="#000" stroke-opacity="0.3" stroke-width="1"/>
<line x1="520.26" y1="318.90" x2="520.26" y2="320.60" stroke="#000" stroke-opacity="0.3" stroke-width="1"/>
<line x1="531.00" y1="318.90" x2="531.00" y2="320.60" stroke="#000" stroke-opacity="0.3" stroke-width="1"/>
<line x1="552.46" y1="318.90" x2="552.46" y2="320.60" stroke="#000" stroke-opacity="0.3" stroke-width="1"/>
<line x1="563.20" y1="318.90" x2="563.20" y2="320.60" stroke="#000" stroke-opacity="0.3" stroke-width="1"/>
<line x1="573.93" y1="318.90" x2="573.93" y2="320.60" stroke="#000" stroke-opacity="0.3" stroke-width="1"/>
<line x1="584.66" y1="318.90" x2="584.66" y2="320.60" stroke="#000" stroke-opacity="0.3" stroke-width="1"/>
<clipPath id="cpf"><rect x="434.40" y="210.50" width="161.20" height="107.90"/></clipPath>
<g clip-path="url(#cpf)">
<path d="M445.45,299.05 L449.75,299.05 L447.60,294.95 Z" fill="#0f690f"/>
<rect x="492.25" y="273.65" width="4.1" height="4.1" fill="#f6f6f6" stroke="#ae141a" stroke-width="1.3"/>
<rect x="516.65" y="272.95" width="4.1" height="4.1" fill="#f6f6f6" stroke="#ae141a" stroke-width="1.3"/>
<rect x="477.95" y="293.65" width="4.1" height="4.1" fill="#f6f6f6" stroke="#ae141a" stroke-width="1.3"/>
<rect x="496.35" y="294.05" width="4.1" height="4.1" fill="#f6f6f6" stroke="#ae141a" stroke-width="1.3"/>
<rect x="555.45" y="293.65" width="4.1" height="4.1" fill="#f6f6f6" stroke="#ae141a" stroke-width="1.3"/>
<circle cx="471.6" cy="257.7" r="2.25" fill="#0c12f2"/>
<circle cx="466.5" cy="272.2" r="2.25" fill="#0c12f2"/>
<circle cx="443.4" cy="283.2" r="2.25" fill="#0c12f2"/>
<circle cx="443.0" cy="289.8" r="2.25" fill="#0c12f2"/>
<circle cx="447.8" cy="290.4" r="2.25" fill="#0c12f2"/>
<path d="M451.50,287.60 L453.80,289.90 L451.50,292.20 L449.20,289.90 Z" fill="#000"/>
<path d="M443.60,293.70 L445.90,296.00 L443.60,298.30 L441.30,296.00 Z" fill="#000"/>
<path d="M442.60,295.40 L444.90,297.70 L442.60,300.00 L440.30,297.70 Z" fill="#000"/>
<path d="M443.40,296.50 L445.70,298.80 L443.40,301.10 L441.10,298.80 Z" fill="#000"/>
</g>
<text x="475.51" y="260.36" font-size="7.7" fill="#222" font-weight="normal" textLength="12.83" lengthAdjust="spacingAndGlyphs" >AO1</text>
<text x="469.81" y="274.86" font-size="7.7" fill="#222" font-weight="normal" textLength="17.39" lengthAdjust="spacingAndGlyphs" >AO14</text>
<text x="498.01" y="275.86" font-size="7.7" fill="#222" font-weight="normal" textLength="15.65" lengthAdjust="spacingAndGlyphs" >AO11</text>
<text x="522.11" y="276.66" font-size="7.7" fill="#222" font-weight="normal" textLength="14.95" lengthAdjust="spacingAndGlyphs" >AO8</text>
<text x="450.11" y="283.76" font-size="7.7" fill="#222" font-weight="normal" textLength="17.10" lengthAdjust="spacingAndGlyphs" >AO16</text>
<text x="453.01" y="290.26" font-size="7.7" fill="#222" font-weight="normal" textLength="16.44" lengthAdjust="spacingAndGlyphs" >AO17</text>
<text x="451.31" y="299.76" font-size="7.7" fill="#222" font-weight="normal" textLength="13.69" lengthAdjust="spacingAndGlyphs" >AO9</text>
<text x="532.92" y="207.30" font-size="7.4" fill="#222" font-weight="normal" textLength="63.01" lengthAdjust="spacingAndGlyphs" ><tspan font-style="italic">ρ</tspan> = 0.54; <tspan font-style="italic">P</tspan> = 0.014</text>
<line x1="450.6" y1="281.8" x2="447.3" y2="288.2" stroke="#777" stroke-width="0.4"/>
<line x1="450.6" y1="296.4" x2="448.6" y2="293.4" stroke="#777" stroke-width="0.4"/>
<text x="54.74" y="9.10" font-size="10.7" fill="#222" font-weight="normal" textLength="104.99" lengthAdjust="spacingAndGlyphs" >D70 post-vaccination</text>
<text x="218.05" y="9.10" font-size="10.7" fill="#222" font-weight="normal" textLength="165.74" lengthAdjust="spacingAndGlyphs" >At pre-CS2 inoculation (D76–654)</text>
<text x="420.65" y="9.10" font-size="10.7" fill="#222" font-weight="normal" textLength="168.02" lengthAdjust="spacingAndGlyphs" >At 4 weeks postpartum (D111–689)</text>
<text transform="translate(21.10,31.80) scale(1.029,1)" x="-0.40" y="0" font-size="13.2" font-weight="bold" fill="#000" stroke="#000" stroke-width="0.25">a</text>
<text transform="translate(211.10,31.60) scale(1.170,1)" x="-0.86" y="0" font-size="13.2" font-weight="bold" fill="#000" stroke="#000" stroke-width="0.25">b</text>
<text transform="translate(415.00,31.60) scale(1.172,1)" x="-0.53" y="0" font-size="13.2" font-weight="bold" fill="#000" stroke="#000" stroke-width="0.25">c</text>
<text transform="translate(21.60,202.90) scale(1.095,1)" x="-0.53" y="0" font-size="13.2" font-weight="bold" fill="#000" stroke="#000" stroke-width="0.25">d</text>
<text transform="translate(211.10,203.20) scale(1.121,1)" x="-0.53" y="0" font-size="13.2" font-weight="bold" fill="#000" stroke="#000" stroke-width="0.25">e</text>
<text transform="translate(414.90,203.00) scale(1.231,1)" x="-0.20" y="0" font-size="13.2" font-weight="bold" fill="#000" stroke="#000" stroke-width="0.25">f</text>
<text x="35.23" y="173.50" font-size="8.4" fill="#222" font-weight="normal" textLength="125.29" lengthAdjust="spacingAndGlyphs" >Percentage of inhibition (NF54)</text>
<line x1="164.5" y1="171.4" x2="592.5" y2="171.4" stroke="#4a5670" stroke-width="1.1"/>
<path d="M591.6,169.3 L597,171.4 L591.6,173.5 Z" fill="#4a5670"/>
<text x="34.03" y="343.90" font-size="8.4" fill="#222" font-weight="normal" textLength="108.72" lengthAdjust="spacingAndGlyphs" >Recognition of NF54 (rMFI)</text>
<line x1="147.4" y1="340.6" x2="592.5" y2="340.6" stroke="#4a5670" stroke-width="1.1"/>
<path d="M591.6,338.5 L597,340.6 L591.6,342.7 Z" fill="#4a5670"/>
<g transform="translate(6.90,151.80) rotate(-90)">
<text x="-0.67" y="0.00" font-size="8.4" fill="#222" font-weight="normal" textLength="56.34" lengthAdjust="spacingAndGlyphs" >Percentage of</text>
</g>
<g transform="translate(16.60,152.10) rotate(-90)">
<text x="-0.55" y="0.00" font-size="8.4" fill="#222" font-weight="normal" textLength="63.06" lengthAdjust="spacingAndGlyphs" >inhibition (CS2)</text>
</g>
<g transform="translate(18.90,325.10) rotate(-90)">
<text x="-0.67" y="0.00" font-size="8.4" fill="#222" font-weight="normal" textLength="104.42" lengthAdjust="spacingAndGlyphs" >Recognition of CS2 (rMFI)</text>
</g>
<line x1="7.5" y1="88.3" x2="7.5" y2="41" stroke="#4a5670" stroke-width="1.1"/>
<path d="M5.4,42.6 L7.5,37.1 L9.6,42.6 Z" fill="#4a5670"/>
<line x1="13.9" y1="218.6" x2="13.9" y2="207" stroke="#4a5670" stroke-width="1.1"/>
<path d="M11.8,208.7 L13.9,203.3 L16,208.7 Z" fill="#4a5670"/>
<text x="601.56" y="180.50" font-size="8.3" fill="#222" font-weight="normal" textLength="36.02" lengthAdjust="spacingAndGlyphs" >Vaccines</text>
<circle cx="604.1" cy="190.2" r="1.85" fill="#0c12f2"/>
<text x="609.04" y="193.40" font-size="8.3" fill="#222" font-weight="normal" textLength="76.19" lengthAdjust="spacingAndGlyphs" >PAMVAC (Pf-FCR3)</text>
<rect x="602.5" y="200.7" width="3.2" height="3.2" fill="#eee" stroke="#ae141a" stroke-width="1.1"/>
<text x="609.04" y="205.10" font-size="8.3" fill="#222" font-weight="normal" textLength="72.29" lengthAdjust="spacingAndGlyphs" >PRIMVAC (Pf-3D7)</text>
<path d="M602.50,218.95 L605.70,218.95 L604.10,216.05 Z" fill="#0f690f"/>
<text x="609.35" y="219.50" font-size="8.3" fill="#222" font-weight="normal" textLength="61.38" lengthAdjust="spacingAndGlyphs" >ID1-ID2a_M1010</text>
<path d="M604.10,228.80 L605.50,230.20 L604.10,231.60 L602.70,230.20 Z" fill="#000"/>
<text x="609.04" y="234.00" font-size="8.3" fill="#222" font-weight="normal" textLength="21.51" lengthAdjust="spacingAndGlyphs" >Pfs25</text>
</svg>
</body></html>
